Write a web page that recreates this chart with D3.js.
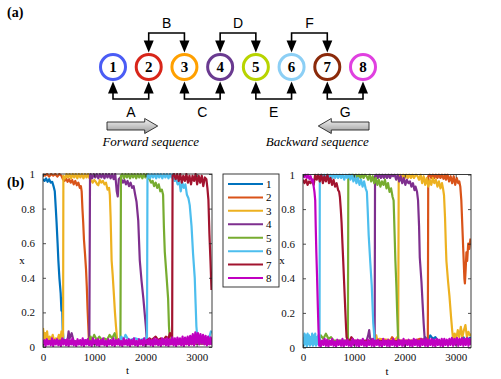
<!DOCTYPE html>
<html><head><meta charset="utf-8">
<script src="https://cdn.jsdelivr.net/npm/d3@7"></script>
<style>body{margin:0;background:#fff}svg{display:block}
.serif{font-family:"Liberation Serif","Times New Roman",Times,"DejaVu Serif",serif}
.sans{font-family:"Liberation Sans",Arial,Helvetica,sans-serif}
</style>
</head><body><svg id="c" width="501" height="379"></svg>
<script>
// ---------- data ----------
const nodeLabels = ["1","2","3","4","5","6","7","8"];
const nodeColors = ["#4a5cf5","#d8261a","#ffa000","#6a3a90","#b8d400","#8ccff5","#8b2a0a","#e040e0"];
const topBrackets = [["B","2","3"],["D","4","5"],["F","6","7"]];
const bottomBrackets = [["A","1","2"],["C","3","4"],["E","5","6"],["G","7","8"]];
const seqLabels = ["Forward sequence","Backward sequence"];
const seriesNames = ["1","2","3","4","5","6","7","8"];
const seriesColors = ["#0072BD","#D95319","#EDB120","#7E2F8E","#77AC30","#4DBEEE","#A2142F","#C000C0"];
const xTicks = [0,1000,2000,3000];
const yTicks = [0,0.2,0.4,0.6,0.8,1];
const tDomain = [0,3300];

// forward panel
const f1 = [[0,0.97],[30,0.96],[60,0.975],[90,0.955],[120,0.97],[150,0.95],[180,0.955],[205,0.93],[230,0.9],[250,0.8],[265,0.72],[285,0.6],[300,0.5],[320,0.4],[345,0.31],[360,0.21],[372,0.28],[385,0.1],[400,0.04],[450,0.02],[3300,0.02]];
const f2 = [[0,1],[40,0.99],[80,1],[120,0.985],[160,1],[200,0.99],[240,1],[280,0.985],[320,1],[360,0.99],[390,0.97],[420,0.96],[450,0.975],[480,0.955],[510,0.97],[540,0.95],[570,0.965],[600,0.94],[630,0.96],[660,0.935],[690,0.95],[720,0.92],[740,0.93],[755,0.9],[770,0.8],[785,0.72],[800,0.62],[820,0.54],[840,0.45],[855,0.35],[870,0.22],[885,0.12],[895,0.05],[920,0.03],[960,0.02],[3300,0.02]];
const f3 = [[0,0.11],[20,0.05],[40,0.08],[60,0.04],[80,0.09],[100,0.03],[130,0.06],[160,0.04],[190,0.07],[220,0.03],[250,0.05],[280,0.04],[310,0.07],[340,0.04],[360,0.09],[380,0.05],[392,0.06],[398,0.99],[430,0.975],[460,1],[490,0.98],[520,1],[550,0.975],[580,1],[610,0.98],[640,1],[670,0.975],[700,1],[730,0.98],[760,1],[790,0.975],[820,1],[850,0.98],[880,1],[910,0.975],[940,0.965],[970,0.95],[1000,0.965],[1030,0.955],[1060,0.94],[1080,0.935],[1110,0.965],[1140,0.95],[1170,0.96],[1200,0.94],[1230,0.95],[1260,0.91],[1290,0.92],[1305,0.88],[1320,0.75],[1340,0.5],[1360,0.42],[1385,0.3],[1405,0.2],[1425,0.12],[1445,0.05],[1470,0.03],[3300,0.02]];
const f4 = [[0,0.03],[480,0.04],[500,0.09],[520,0.05],[560,0.08],[600,0.03],[905,0.04],[918,0.99],[930,1],[960,0.975],[990,1],[1020,0.98],[1050,1],[1080,0.975],[1110,1],[1140,0.98],[1170,1],[1200,0.975],[1230,1],[1260,0.98],[1290,1],[1320,0.975],[1350,1],[1380,0.97],[1410,1],[1440,0.9],[1460,0.87],[1480,0.97],[1510,0.98],[1530,0.97],[1560,0.95],[1590,0.965],[1620,0.94],[1650,0.96],[1680,0.93],[1710,0.95],[1740,0.92],[1770,0.93],[1800,0.88],[1826,0.84],[1860,0.73],[1890,0.5],[1925,0.38],[1960,0.28],[1990,0.18],[2008,0.12],[2025,0.05],[2050,0.03],[3300,0.02]];
const f5 = [[0,0.03],[900,0.03],[930,0.06],[960,0.04],[1000,0.07],[1050,0.04],[1100,0.06],[1150,0.04],[1200,0.05],[1250,0.04],[1300,0.07],[1350,0.05],[1400,0.08],[1430,0.04],[1500,0.03],[1512,0.04],[1522,0.99],[1550,1],[1580,0.975],[1610,1],[1640,0.98],[1670,1],[1700,0.975],[1730,1],[1760,0.98],[1790,1],[1820,0.975],[1850,1],[1880,0.98],[1910,1],[1940,0.975],[1970,1],[2000,0.98],[2030,1],[2050,0.975],[2080,0.97],[2110,0.95],[2140,0.96],[2170,0.93],[2200,0.95],[2230,0.92],[2260,0.94],[2290,0.9],[2320,0.91],[2345,0.88],[2360,0.7],[2378,0.55],[2410,0.42],[2443,0.28],[2460,0.12],[2475,0.05],[2500,0.03],[3300,0.02]];
const f6 = [[0,0.03],[1500,0.03],[1530,0.06],[1570,0.04],[1610,0.07],[1650,0.05],[1700,0.04],[1800,0.05],[1900,0.04],[2000,0.05],[2030,0.04],[2040,0.99],[2060,1],[2090,0.975],[2120,1],[2150,0.98],[2180,1],[2210,0.975],[2240,1],[2270,0.98],[2300,1],[2330,0.975],[2360,1],[2390,0.98],[2420,1],[2450,0.975],[2480,1],[2510,0.98],[2540,1],[2570,0.96],[2600,0.97],[2630,0.94],[2660,0.96],[2690,0.9],[2720,0.95],[2750,0.92],[2780,0.94],[2810,0.88],[2840,0.86],[2865,0.82],[2900,0.7],[2930,0.54],[2963,0.4],[2980,0.25],[2995,0.12],[3015,0.05],[3050,0.03],[3100,0.04],[3150,0.03],[3200,0.05],[3250,0.06],[3280,0.09],[3300,0.08]];
const f7 = [[0,0.03],[2000,0.03],[2080,0.05],[2120,0.04],[2200,0.06],[2250,0.04],[2300,0.05],[2350,0.04],[2400,0.06],[2450,0.05],[2480,0.08],[2510,0.06],[2522,0.05],[2530,0.99],[2560,1],[2590,0.97],[2620,1],[2650,0.96],[2680,1],[2710,0.95],[2740,0.99],[2770,0.96],[2800,1],[2830,0.95],[2860,0.99],[2890,0.94],[2920,0.99],[2950,0.96],[2980,1],[3010,0.94],[3040,0.99],[3070,0.95],[3100,0.99],[3130,0.93],[3160,0.98],[3190,0.97],[3210,0.92],[3230,0.85],[3250,0.65],[3270,0.5],[3290,0.33]];
const f8 = [[0,0.01],[25,0.04],[50,0.005],[75,0.045],[100,0.015],[125,0.035],[150,0.01],[175,0.05],[200,0.005],[225,0.04],[250,0.015],[275,0.045],[300,0.01],[325,0.035],[350,0.005],[375,0.05],[400,0.015],[425,0.04],[450,0.01],[475,0.045],[500,0.005],[525,0.04],[550,0.015],[575,0.05],[600,0.01],[625,0.035],[650,0.005],[675,0.045],[700,0.015],[725,0.04],[750,0.01],[775,0.05],[800,0.005],[825,0.04],[850,0.015],[875,0.045],[900,0.01],[925,0.035],[950,0.005],[975,0.05],[1000,0.015],[1025,0.04],[1050,0.01],[1075,0.045],[1100,0.005],[1125,0.04],[1150,0.015],[1175,0.05],[1200,0.01],[1225,0.035],[1250,0.005],[1275,0.045],[1300,0.015],[1325,0.04],[1350,0.01],[1375,0.05],[1400,0.005],[1425,0.04],[1450,0.015],[1475,0.045],[1500,0.01],[1525,0.035],[1550,0.005],[1575,0.05],[1600,0.015],[1625,0.04],[1650,0.01],[1675,0.045],[1700,0.005],[1725,0.04],[1750,0.015],[1775,0.05],[1800,0.01],[1825,0.035],[1850,0.005],[1875,0.045],[1900,0.015],[1925,0.04],[1950,0.01],[1975,0.05],[2000,0.005],[2025,0.04],[2050,0.015],[2075,0.045],[2100,0.01],[2125,0.04],[2150,0.005],[2175,0.05],[2200,0.015],[2225,0.045],[2250,0.01],[2275,0.04],[2300,0.005],[2325,0.05],[2350,0.015],[2375,0.045],[2400,0.01],[2425,0.05],[2450,0.005],[2475,0.045],[2500,0.015],[2525,0.055],[2550,0.01],[2575,0.05],[2600,0.005],[2625,0.055],[2650,0.015],[2675,0.05],[2700,0.01],[2725,0.06],[2750,0.005],[2775,0.055],[2800,0.015],[2825,0.06],[2850,0.01],[2875,0.065],[2900,0.015],[2925,0.075],[2950,0.01],[2975,0.085],[3000,0.02],[3025,0.08],[3050,0.015],[3075,0.075],[3100,0.02],[3125,0.07],[3150,0.015],[3175,0.065],[3200,0.01],[3225,0.06],[3250,0.015],[3275,0.055],[3300,0.01]];

// backward panel
const b1 = [[0,0.03],[2350,0.03],[2400,0.06],[2450,0.04],[2500,0.07],[2550,0.05],[2600,0.06],[2650,0.04],[2700,0.03],[3100,0.04],[3150,0.06],[3200,0.04],[3250,0.05],[3300,0.06]];
const b2 = [[0,0.03],[1700,0.03],[1750,0.06],[1800,0.04],[2200,0.04],[2300,0.05],[2440,0.04],[2452,0.05],[2460,0.99],[2490,1],[2520,0.98],[2550,1],[2580,0.98],[2610,1],[2640,0.98],[2670,1],[2700,0.98],[2730,1],[2760,0.975],[2790,1],[2810,0.97],[2840,1],[2870,0.96],[2900,0.99],[2930,0.95],[2960,0.99],[2990,0.94],[3020,0.98],[3050,0.95],[3070,0.96],[3090,0.93],[3110,0.85],[3130,0.7],[3150,0.55],[3170,0.4],[3180,0.37],[3195,0.45],[3210,0.55],[3225,0.5],[3245,0.6],[3265,0.57],[3290,0.63]];
const b3 = [[0,0.03],[1400,0.03],[1420,0.05],[1440,0.07],[1460,0.04],[1500,0.05],[1800,0.04],[1850,0.06],[1870,0.05],[1880,0.99],[1910,1],[1940,0.98],[1970,1],[2000,0.98],[2030,1],[2060,0.98],[2090,1],[2120,0.98],[2150,1],[2180,0.98],[2220,1],[2250,0.99],[2280,0.97],[2310,1],[2340,0.95],[2370,0.99],[2400,0.94],[2430,0.98],[2460,0.93],[2490,0.97],[2520,0.94],[2550,0.98],[2580,0.95],[2610,0.97],[2640,0.93],[2670,0.96],[2700,0.92],[2730,0.95],[2750,0.92],[2770,0.88],[2790,0.75],[2805,0.6],[2817,0.5],[2850,0.38],[2876,0.3],[2910,0.17],[2930,0.1],[2948,0.05],[2980,0.08],[3010,0.05],[3040,0.1],[3070,0.06],[3100,0.12],[3130,0.06],[3160,0.1],[3190,0.13],[3220,0.06],[3250,0.09],[3280,0.07],[3300,0.08]];
const b4 = [[0,0.03],[1250,0.04],[1280,0.07],[1300,0.1],[1320,0.05],[1400,0.04],[1408,0.05],[1415,0.99],[1440,1],[1470,0.98],[1500,1],[1530,0.98],[1560,1],[1590,0.98],[1620,1],[1650,0.98],[1680,1],[1710,0.98],[1740,1],[1770,0.99],[1800,1],[1830,0.97],[1860,1],[1890,0.96],[1920,0.99],[1950,0.95],[1980,0.98],[2010,0.94],[2040,0.97],[2070,0.95],[2100,0.96],[2130,0.93],[2160,0.95],[2190,0.91],[2210,0.93],[2240,0.9],[2260,0.85],[2280,0.7],[2294,0.52],[2327,0.38],[2350,0.25],[2370,0.14],[2390,0.05],[2420,0.03],[3300,0.03]];
const b5 = [[0,0.03],[320,0.04],[350,0.07],[400,0.05],[450,0.08],[500,0.05],[550,0.06],[600,0.04],[870,0.04],[882,0.05],[890,0.99],[920,1],[950,0.98],[980,1],[1010,0.98],[1040,1],[1070,0.98],[1100,1],[1130,0.98],[1160,1],[1190,0.98],[1220,1],[1250,0.99],[1280,0.97],[1310,1],[1340,0.96],[1370,0.99],[1400,0.95],[1430,0.98],[1460,0.94],[1490,0.97],[1520,0.93],[1550,0.96],[1580,0.94],[1610,0.97],[1640,0.92],[1670,0.95],[1700,0.9],[1730,0.92],[1760,0.87],[1780,0.85],[1800,0.65],[1815,0.5],[1835,0.35],[1850,0.2],[1869,0.05],[1900,0.03],[3300,0.03]];
const b6 = [[0,0.06],[15,0.01],[30,0.08],[45,0.02],[60,0.07],[75,0.005],[90,0.08],[105,0.02],[120,0.07],[135,0.01],[150,0.06],[165,0.02],[180,0.08],[195,0.01],[210,0.07],[225,0.02],[240,0.08],[255,0.01],[270,0.06],[285,0.02],[300,0.07],[315,0.02],[325,0.03],[330,0.99],[360,1],[390,0.98],[420,1],[450,0.98],[480,1],[510,0.98],[540,1],[570,0.98],[600,1],[630,0.98],[660,1],[690,0.98],[720,1],[750,0.98],[780,1],[810,0.97],[840,1],[870,0.98],[900,1],[930,0.97],[960,1],[990,0.96],[1020,0.99],[1050,0.95],[1080,0.98],[1110,0.94],[1140,0.97],[1170,0.93],[1200,0.96],[1230,0.92],[1255,0.9],[1270,0.8],[1290,0.65],[1320,0.5],[1350,0.36],[1380,0.14],[1405,0.05],[1430,0.03],[3300,0.03]];
const b7 = [[0,0.97],[30,0.95],[60,0.97],[90,0.94],[120,0.96],[150,0.95],[180,0.97],[210,0.94],[240,1],[270,0.97],[300,1],[330,0.96],[360,1],[390,0.95],[420,0.99],[450,0.96],[480,1],[510,0.95],[540,0.98],[570,0.94],[600,0.97],[630,0.93],[660,0.95],[690,0.91],[710,0.9],[725,0.87],[742,0.8],[758,0.72],[775,0.6],[790,0.5],[810,0.36],[830,0.22],[845,0.12],[856,0.06],[880,0.04],[900,0.03],[950,0.06],[1000,0.04],[3300,0.03]];
const b8 = [[0,1],[25,0.985],[50,1],[75,0.98],[100,1],[125,0.975],[150,0.99],[175,0.96],[195,0.97],[210,0.93],[225,0.9],[240,0.85],[250,0.7],[262,0.55],[275,0.42],[290,0.25],[305,0.1],[318,0.01],[325,0.045],[350,0.005],[375,0.04],[400,0.015],[425,0.05],[450,0.01],[475,0.045],[500,0.005],[525,0.04],[550,0.015],[575,0.05],[600,0.01],[625,0.035],[650,0.005],[675,0.045],[700,0.015],[725,0.04],[750,0.01],[775,0.05],[800,0.005],[825,0.04],[850,0.015],[875,0.045],[900,0.01],[925,0.035],[950,0.005],[975,0.05],[1000,0.015],[1025,0.04],[1050,0.01],[1075,0.045],[1100,0.005],[1125,0.04],[1150,0.015],[1175,0.05],[1200,0.01],[1225,0.035],[1250,0.005],[1275,0.045],[1300,0.015],[1325,0.04],[1350,0.01],[1375,0.05],[1400,0.005],[1425,0.04],[1450,0.015],[1475,0.045],[1500,0.01],[1525,0.035],[1550,0.005],[1575,0.05],[1600,0.015],[1625,0.04],[1650,0.01],[1675,0.045],[1700,0.005],[1725,0.04],[1750,0.015],[1775,0.05],[1800,0.01],[1825,0.035],[1850,0.005],[1875,0.045],[1900,0.015],[1925,0.04],[1950,0.01],[1975,0.05],[2000,0.005],[2025,0.04],[2050,0.015],[2075,0.045],[2100,0.01],[2125,0.04],[2150,0.005],[2175,0.05],[2200,0.015],[2225,0.045],[2250,0.01],[2275,0.04],[2300,0.005],[2325,0.05],[2350,0.015],[2375,0.045],[2400,0.01],[2425,0.05],[2450,0.005],[2475,0.045],[2500,0.015],[2525,0.05],[2550,0.01],[2575,0.045],[2600,0.005],[2625,0.05],[2650,0.015],[2675,0.045],[2700,0.01],[2725,0.05],[2750,0.005],[2775,0.05],[2800,0.015],[2825,0.045],[2850,0.01],[2875,0.05],[2900,0.015],[2925,0.055],[2950,0.01],[2975,0.05],[3000,0.015],[3025,0.055],[3050,0.01],[3075,0.05],[3100,0.015],[3125,0.055],[3150,0.01],[3175,0.05],[3200,0.015],[3225,0.055],[3250,0.01],[3275,0.05],[3300,0.015]];

const forwardSeries = [f1,f2,f3,f4,f5,f6,f7,f8];
const backwardSeries = [b1,b2,b3,b4,b5,b6,b7,b8];

// ---------- drawing ----------
const svg = d3.select("#c");
const defs = svg.append("defs");

// panel labels
svg.append("text").attr("class","serif").attr("x",7).attr("y",17).attr("font-weight","bold").attr("font-size",14).text("(a)");
svg.append("text").attr("class","serif").attr("x",7).attr("y",187).attr("font-weight","bold").attr("font-size",14).text("(b)");

// ---- diagram (a) ----
const nx = d3.scalePoint().domain(nodeLabels).range([113,363]);
const ny = 67, R = 12.5;
const topY = 33, botY = 99;
const tipTop = ny - R - 2, tipBot = ny + R + 2;
const diag = svg.append("g");
const arrowHead = (x, tipY, dir) => {
  const h = 12, w = 5;
  return `M${x},${tipY}L${x-w},${tipY - dir*h}L${x+w},${tipY - dir*h}Z`;
};
topBrackets.forEach(([lab,a,b]) => {
  const xa = nx(a), xb = nx(b);
  diag.append("path").attr("d",`M${xa},${tipTop-8}V${topY}H${xb}V${tipTop-8}`)
    .attr("fill","none").attr("stroke","#000").attr("stroke-width",1.6);
  diag.append("path").attr("d",arrowHead(xa,tipTop,1)).attr("fill","#000");
  diag.append("path").attr("d",arrowHead(xb,tipTop,1)).attr("fill","#000");
  diag.append("text").attr("class","sans").attr("x",(xa+xb)/2).attr("y",topY-5).attr("text-anchor","middle")
    .attr("font-size",14).text(lab);
});
bottomBrackets.forEach(([lab,a,b]) => {
  const xa = nx(a), xb = nx(b);
  diag.append("path").attr("d",`M${xa},${tipBot+8}V${botY}H${xb}V${tipBot+8}`)
    .attr("fill","none").attr("stroke","#000").attr("stroke-width",1.6);
  diag.append("path").attr("d",arrowHead(xa,tipBot,-1)).attr("fill","#000");
  diag.append("path").attr("d",arrowHead(xb,tipBot,-1)).attr("fill","#000");
  diag.append("text").attr("class","sans").attr("x",(xa+xb)/2).attr("y",botY+18).attr("text-anchor","middle")
    .attr("font-size",14).text(lab);
});
nodeLabels.forEach((n,i) => {
  diag.append("circle").attr("cx",nx(n)).attr("cy",ny).attr("r",R)
    .attr("fill","#fff").attr("stroke",nodeColors[i]).attr("stroke-width",3);
  diag.append("text").attr("class","serif").attr("x",nx(n)).attr("y",ny+5).attr("text-anchor","middle")
    .attr("font-weight","bold").attr("font-size",15).text(n);
});
// block arrows
const grad = defs.append("linearGradient").attr("id","ag").attr("x1",0).attr("y1",0).attr("x2",0).attr("y2",1);
grad.append("stop").attr("offset","0%").attr("stop-color","#f4f4f4");
grad.append("stop").attr("offset","100%").attr("stop-color","#9a9a9a");
function blockArrow(x0, x1, y, dir) {
  const bh = 4, hh = 7.5, hl = 13;
  let d;
  if (dir > 0) d = `M${x0},${y-bh}H${x1-hl}V${y-hh}L${x1},${y}L${x1-hl},${y+hh}V${y+bh}H${x0}Z`;
  else d = `M${x1},${y-bh}H${x0+hl}V${y-hh}L${x0},${y}L${x0+hl},${y+hh}V${y+bh}H${x1}Z`;
  diag.append("path").attr("d",d).attr("fill","url(#ag)").attr("stroke","#222").attr("stroke-width",0.9);
}
blockArrow(nx("1")-6, nx("2")+9, 126, 1);
blockArrow(nx("7")-9, nx("8")+6, 126, -1);
diag.append("text").attr("class","serif").attr("x",(nx("1")+nx("3"))/2+2).attr("y",146).attr("text-anchor","middle")
  .attr("font-style","italic").attr("font-size",13).text(seqLabels[0]);
diag.append("text").attr("class","serif").attr("x",(nx("6")+nx("8"))/2-10).attr("y",146).attr("text-anchor","middle")
  .attr("font-style","italic").attr("font-size",13).text(seqLabels[1]);

// ---- time series panels (b) ----
function panel(box, data, id) {
  const x = d3.scaleLinear().domain(tDomain).range([box.l, box.r]);
  const y = d3.scaleLinear().domain([0,1]).range([box.b, box.t]);
  defs.append("clipPath").attr("id",id).append("rect")
    .attr("x",box.l).attr("y",box.t-1).attr("width",box.r-box.l).attr("height",box.b-box.t+1);
  const g = svg.append("g");
  const line = d3.line().x(d => x(d[0])).y(d => y(d[1]));
  const lg = g.append("g").attr("clip-path",`url(#${id})`);
  data.forEach((s,i) => {
    lg.append("path").datum(s).attr("d",line).attr("fill","none")
      .attr("stroke",seriesColors[i]).attr("stroke-width",2.2).attr("stroke-linejoin","round");
  });
  const fmt = d => String(d);
  const axCol = "#262626";
  const ax = [
    g.append("g").attr("transform",`translate(0,${box.b})`).call(d3.axisBottom(x).tickValues(xTicks).tickSize(-3).tickPadding(6).tickFormat(fmt)),
    g.append("g").attr("transform",`translate(0,${box.t})`).call(d3.axisTop(x).tickValues(xTicks).tickSize(-3).tickFormat("")),
    g.append("g").attr("transform",`translate(${box.l},0)`).call(d3.axisLeft(y).tickValues(yTicks).tickSize(-3).tickPadding(8).tickFormat(fmt)),
    g.append("g").attr("transform",`translate(${box.r},0)`).call(d3.axisRight(y).tickValues(yTicks).tickSize(-3).tickFormat(""))
  ];
  ax.forEach(a => {
    a.attr("font-family",null).attr("font-size",null);
    a.select(".domain").remove();
    a.selectAll("line").attr("stroke",axCol).attr("stroke-width",0.8);
    a.selectAll("text").attr("class","serif").attr("font-size",11).attr("fill","#111");
  });
  g.append("rect").attr("x",box.l).attr("y",box.t).attr("width",box.r-box.l).attr("height",box.b-box.t)
    .attr("fill","none").attr("stroke",axCol).attr("stroke-width",0.9);
  g.append("text").attr("class","serif").attr("x",(box.l+box.r)/2).attr("y",box.b+27).attr("text-anchor","middle")
    .attr("font-size",11).text("t");
  g.append("text").attr("class","serif").attr("x",box.l-21).attr("y",(box.t+box.b)/2+3).attr("text-anchor","middle")
    .attr("font-size",11).text("x");
}
panel({l:43,r:212,t:174,b:347}, forwardSeries, "clipL");
panel({l:303,r:471,t:174.5,b:347.5}, backwardSeries, "clipR");

// legend
const leg = svg.append("g");
leg.append("rect").attr("x",223).attr("y",174).attr("width",56).attr("height",113)
  .attr("fill","#fff").attr("stroke","#262626").attr("stroke-width",0.9);
const ly = d3.scalePoint().domain(seriesNames).range([184,278]);
seriesNames.forEach((n,i) => {
  leg.append("line").attr("x1",228).attr("x2",263).attr("y1",ly(n)).attr("y2",ly(n))
    .attr("stroke",seriesColors[i]).attr("stroke-width",2);
  leg.append("text").attr("class","serif").attr("x",266).attr("y",ly(n)+4).attr("font-size",11).text(n);
});
</script></body></html>
